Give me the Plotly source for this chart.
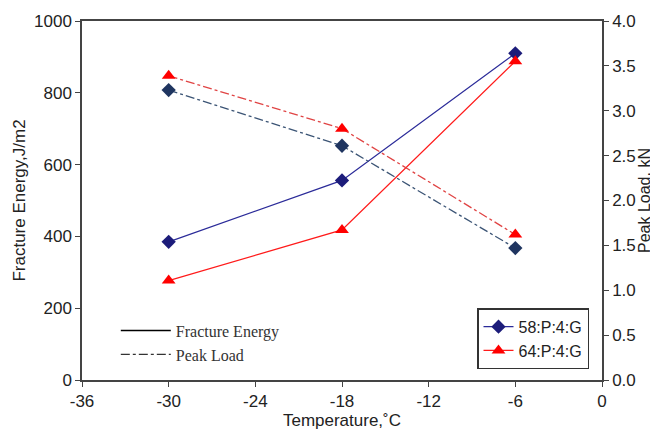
import plotly.graph_objects as go

temps = [-30, -18, -6]
energy_58 = [385, 556, 910]
energy_64 = [277, 418, 888]
peak_58 = [3.23, 2.61, 1.47]
peak_64 = [3.39, 2.80, 1.62]
series_names = ["58:P:4:G", "64:P:4:G"]
x_ticks = [-36, -30, -24, -18, -12, -6, 0]

BLUE = "#2b2b99"
BLUE_M = "#1c1c7a"
SLATE = "#3b5475"
RED = "#ff1a1a"

fig = go.Figure()
# Fracture energy (solid, left axis)
fig.add_trace(go.Scatter(x=temps, y=energy_58, mode="lines+markers", name=series_names[0],
                         line=dict(color=BLUE, width=1.3),
                         marker=dict(symbol="diamond", size=11, color=BLUE_M),
                         legend="legend"))
fig.add_trace(go.Scatter(x=temps, y=energy_64, mode="lines+markers", name=series_names[1],
                         line=dict(color=RED, width=1.3),
                         marker=dict(symbol="triangle-up", size=12, color="#ff0000"),
                         legend="legend"))
# Peak load (dash-dot, right axis)
fig.add_trace(go.Scatter(x=temps, y=peak_58, mode="lines+markers", yaxis="y2", showlegend=False,
                         line=dict(color=SLATE, width=1.3, dash="dashdot"),
                         marker=dict(symbol="diamond", size=11, color="#1f3560")))
fig.add_trace(go.Scatter(x=temps, y=peak_64, mode="lines+markers", yaxis="y2", showlegend=False,
                         line=dict(color="#e04444", width=1.3, dash="dashdot"),
                         marker=dict(symbol="triangle-up", size=12, color="#ff0000")))
# line-style key
fig.add_trace(go.Scatter(x=[None], y=[None], mode="lines", name="Fracture Energy",
                         line=dict(color="black", width=1.3), legend="legend2"))
fig.add_trace(go.Scatter(x=[None], y=[None], mode="lines", name="Peak Load",
                         line=dict(color="#333333", width=1.3, dash="dashdot"), legend="legend2"))

axis_font = dict(family="Liberation Sans, Arial, sans-serif", size=17, color="#222222")
fig.update_layout(
    width=650, height=427,
    margin=dict(l=74, r=56, t=13, b=55),
    paper_bgcolor="white", plot_bgcolor="white",
    font=axis_font,
    showlegend=True,
    xaxis=dict(range=[-36, 0], tickvals=x_ticks, ticktext=[str(v) for v in x_ticks],
               ticks="outside", ticklen=5, tickcolor="#444", showline=True, linecolor="#444",
               linewidth=1.5, mirror=True, showgrid=False, zeroline=False, automargin=False,
               title=dict(text="Temperature,˚C", font=dict(size=17), standoff=4)),
    yaxis=dict(range=[0, 1000], dtick=200, ticks="outside", ticklen=5, tickcolor="#444",
               showline=True, linecolor="#444", linewidth=1.5, showgrid=False, zeroline=False,
               automargin=False,
               title=dict(text="Fracture Energy,J/m2", font=dict(size=17), standoff=4)),
    yaxis2=dict(range=[0, 4], dtick=0.5, tickformat=".1f", overlaying="y", side="right",
                ticks="outside", ticklen=5, tickcolor="#444", showline=True, linecolor="#444",
                linewidth=1.5, showgrid=False, zeroline=False, automargin=False,
                title=dict(text="Peak Load, kN", font=dict(size=16), standoff=2)),
    legend=dict(x=0.975, y=0.03, xanchor="right", yanchor="bottom",
                bordercolor="#333", borderwidth=1.5, bgcolor="white",
                font=dict(size=16), tracegroupgap=0, itemwidth=30),
    legend2=dict(x=0.065, y=0.185, xanchor="left", yanchor="top",
                 bgcolor="rgba(0,0,0,0)", borderwidth=0,
                 font=dict(family="Liberation Serif, Times New Roman, serif", size=16, color="#333"),
                 itemwidth=50),
)

fig.write_html("out.html")
